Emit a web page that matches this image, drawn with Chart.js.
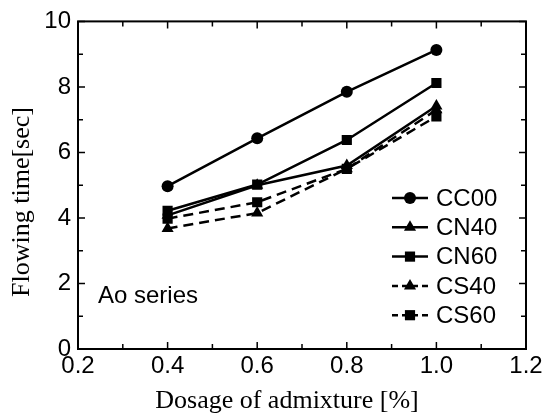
<!DOCTYPE html>
<html>
<head>
<meta charset="utf-8">
<script src="https://cdn.jsdelivr.net/npm/chart.js@4/dist/chart.umd.min.js"></script>
<style>
  html, body { margin: 0; padding: 0; background: #fff; }
  #wrap { width: 548px; height: 418px; position: relative; }
</style>
</head>
<body>
<div id="wrap"><canvas id="flowChart"></canvas></div>
<script>
// values
const dosage = [0.4, 0.6, 0.8, 1.0];
const seriesNames = ['CC00', 'CN40', 'CN60', 'CS40', 'CS60'];
const cc00 = [4.97, 6.43, 7.85, 9.13];
const cn40 = [4.08, 5.0, 5.6, 7.42];
const cn60 = [4.22, 5.02, 6.38, 8.12];
const cs40 = [3.68, 4.15, 5.5, 7.3];
const cs60 = [3.98, 4.48, 5.5, 7.1];
const xTickLabels = ['0.2', '0.4', '0.6', '0.8', '1.0', '1.2'];
const yTickLabels = ['0', '2', '4', '6', '8', '10'];
const xTitle = 'Dosage of admixture [%]';
const yTitle = 'Flowing time[sec]';
const note = 'Ao series';

const SANS = "'Liberation Sans', Arial, sans-serif";
const SERIF = "'Liberation Serif', 'Times New Roman', serif";

const styles = [
  { values: cc00, shape: 'circle', r: 6, dash: [] },
  { values: cn40, shape: 'triangle', r: 7, dash: [] },
  { values: cn60, shape: 'rect', r: 7.2, dash: [] },
  { values: cs40, shape: 'triangle', r: 7, dash: [10, 6] },
  { values: cs60, shape: 'rect', r: 7.2, dash: [10, 6] }
];

const datasets = styles.map((s, i) => ({
  label: seriesNames[i],
  data: s.values.map((v, j) => ({ x: dosage[j], y: v })),
  borderColor: '#000',
  backgroundColor: '#000',
  borderWidth: 2.5,
  borderDash: s.dash,
  pointStyle: s.shape,
  pointRadius: s.r,
  pointBorderWidth: 0,
  tension: 0,
  fill: false
}));

function marker(ctx, shape, x, y, r) {
  ctx.beginPath();
  if (shape === 'circle') {
    ctx.arc(x, y, r, 0, Math.PI * 2);
  } else if (shape === 'rect') {
    const s = Math.SQRT1_2 * r;
    ctx.rect(x - s, y - s, 2 * s, 2 * s);
  } else {
    ctx.moveTo(x, y - r);
    ctx.lineTo(x + r * Math.sin(Math.PI / 3), y + r / 2);
    ctx.lineTo(x - r * Math.sin(Math.PI / 3), y + r / 2);
    ctx.closePath();
  }
  ctx.fill();
}

// box with inward ticks on all four sides, titles, legend and the note
const framePlugin = {
  id: 'framePlugin',
  afterDraw(chart) {
    const { ctx, chartArea: a, scales: { x, y } } = chart;
    ctx.save();
    ctx.strokeStyle = '#000';
    ctx.lineWidth = 2;
    ctx.strokeRect(a.left, a.top, a.right - a.left, a.bottom - a.top);

    ctx.lineWidth = 1.5;
    ctx.beginPath();
    for (let k = 0; k <= 10; k++) {
      const px = x.getPixelForValue(x.min + k * 0.1);
      const len = k % 2 === 0 ? 7 : 5;
      ctx.moveTo(px, a.bottom); ctx.lineTo(px, a.bottom - len);
      ctx.moveTo(px, a.top); ctx.lineTo(px, a.top + len);
    }
    for (let k = 0; k <= 10; k++) {
      const py = y.getPixelForValue(k);
      const len = k % 2 === 0 ? 7 : 5;
      ctx.moveTo(a.left, py); ctx.lineTo(a.left + len, py);
      ctx.moveTo(a.right, py); ctx.lineTo(a.right - len, py);
    }
    ctx.stroke();

    ctx.fillStyle = '#000';
    ctx.textBaseline = 'middle';

    // axis titles
    ctx.font = '26px ' + SERIF;
    ctx.textAlign = 'center';
    ctx.fillText(xTitle, 287, 401);
    ctx.save();
    ctx.translate(22, 202);
    ctx.rotate(-Math.PI / 2);
    ctx.fillText(yTitle, 0, 0);
    ctx.restore();

    // legend
    ctx.font = '24px ' + SANS;
    ctx.textAlign = 'left';
    chart.data.datasets.forEach((ds, i) => {
      const ly = 198 + i * 29.3;
      ctx.lineWidth = 2.5;
      ctx.setLineDash(ds.borderDash.length ? [6, 4] : []);
      ctx.beginPath();
      ctx.moveTo(392, ly); ctx.lineTo(428, ly);
      ctx.stroke();
      ctx.setLineDash([]);
      marker(ctx, ds.pointStyle, 410, ly, ds.pointRadius);
      ctx.fillText(ds.label, 436, ly + 1);
    });

    ctx.fillText(note, 98, 296);
    ctx.restore();
  }
};

new Chart(document.getElementById('flowChart'), {
  type: 'line',
  data: { datasets: datasets },
  options: {
    responsive: true,
    maintainAspectRatio: false,
    animation: false,
    layout: { padding: { top: 19, right: 22, left: 0, bottom: 0 } },
    plugins: {
      legend: { display: false },
      tooltip: { enabled: false }
    },
    scales: {
      x: {
        type: 'linear',
        min: 0.2,
        max: 1.2,
        grid: { display: false, drawTicks: false },
        border: { display: false },
        afterFit: s => { s.height = 69; },
        afterBuildTicks: s => { s.ticks = xTickLabels.map(t => ({ value: parseFloat(t) })); },
        ticks: {
          color: '#000',
          padding: 3,
          font: { family: SANS, size: 24 },
          callback: v => xTickLabels.find(t => parseFloat(t) === v) || ''
        }
      },
      y: {
        min: 0,
        max: 10,
        grid: { display: false, drawTicks: false },
        border: { display: false },
        afterFit: s => { s.width = 78; },
        afterBuildTicks: s => { s.ticks = yTickLabels.map(t => ({ value: Number(t) })); },
        ticks: {
          color: '#000',
          padding: 7,
          font: { family: SANS, size: 24 },
          callback: v => String(v)
        }
      }
    }
  },
  plugins: [framePlugin]
});
</script>
</body>
</html>
